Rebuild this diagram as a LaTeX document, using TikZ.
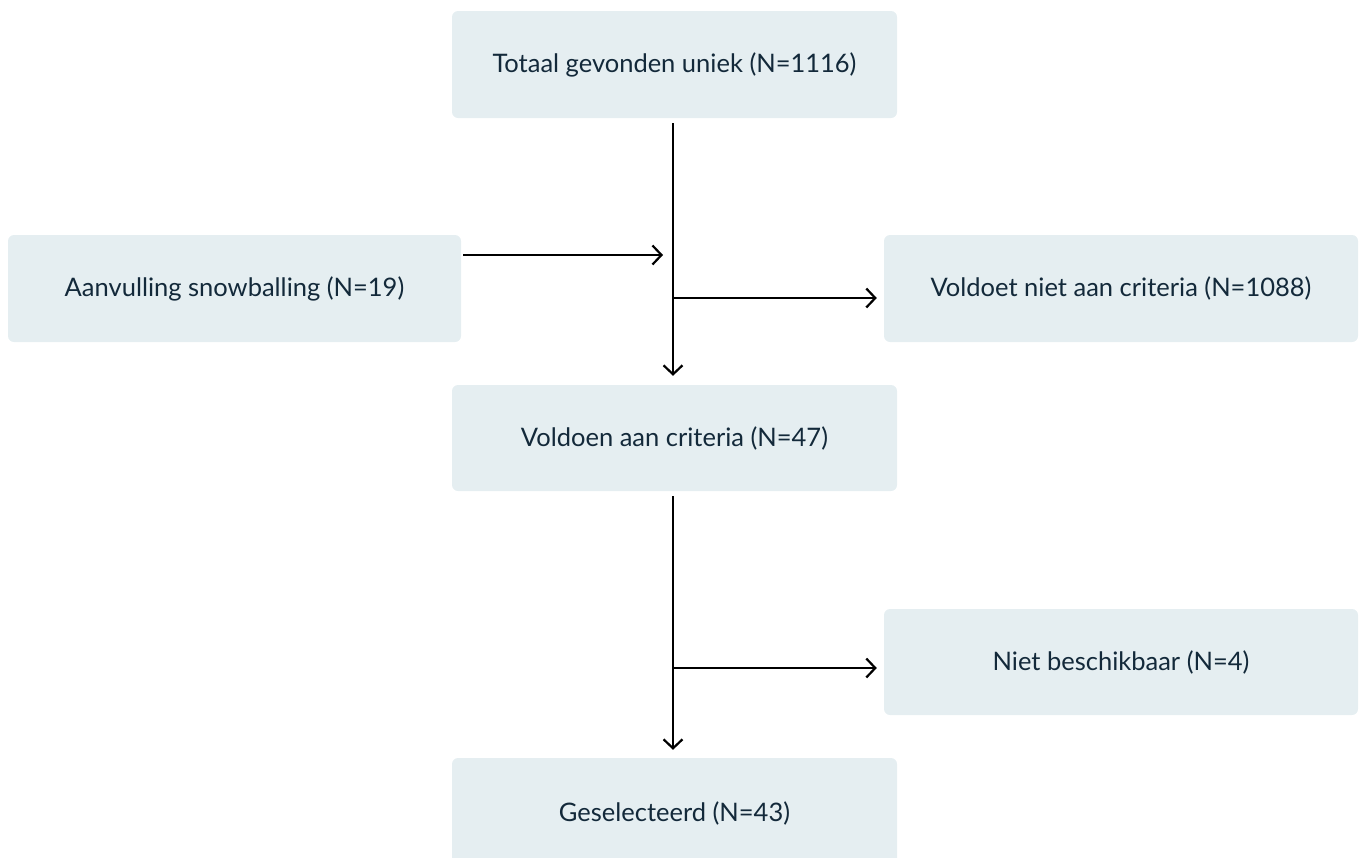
\documentclass[tikz,border=0pt]{standalone}
\usepackage{fontspec}
\setmainfont{Lato}
\usetikzlibrary{arrows.meta}
\definecolor{boxfill}{HTML}{E5EEF1}
\definecolor{txt}{HTML}{13293A}
\begin{document}
\begin{tikzpicture}[x=1pt,y=-1pt,
  box/.style={fill=boxfill, rounded corners=6pt, inner sep=0pt, text=txt,
    font=\fontsize{25.5}{29}\selectfont},
  conn/.style={line width=2.2pt, black, -{Straight Barb[length=9pt,width=19pt,line width=2.2pt]}}]
\useasboundingbox (0,0) rectangle (1362,857);
\clip (0,0) rectangle (1362,857);
\node[box, minimum width=445pt, minimum height=107pt] (top) at (674.5,64.5) {Totaal gevonden uniek (N=1116)};
\node[box, minimum width=453pt, minimum height=107pt] (snow) at (234.5,288.5) {Aanvulling snowballing (N=19)};
\node[box, minimum width=474pt, minimum height=107pt] (excl) at (1121,288.5) {Voldoet niet aan criteria (N=1088)};
\node[box, minimum width=445pt, minimum height=106pt] (mid) at (674.5,438) {Voldoen aan criteria (N=47)};
\node[box, minimum width=474pt, minimum height=106pt] (na) at (1121,662) {Niet beschikbaar (N=4)};
\node[box, minimum width=445pt, minimum height=110pt] (sel) at (674.5,813) {Geselecteerd (N=43)};
\coordinate (vx) at (673,0);
\coordinate (s1) at (snow.east |- 0,255);
\coordinate (j1) at (vx |- s1);
\coordinate (j2) at (vx |- 0,298);
\coordinate (j3) at (vx |- 0,668);
\draw[conn, shorten <=5pt, shorten >=9pt] (top.south -| vx) -- (mid.north -| vx);
\draw[conn, shorten <=2pt, shorten >=10pt] (s1) -- (j1);
\draw[conn, shorten >=7pt] (j2) -- (excl.west |- j2);
\draw[conn, shorten <=5pt, shorten >=8pt] (mid.south -| vx) -- (sel.north -| vx);
\draw[conn, shorten >=7pt] (j3) -- (na.west |- j3);
\end{tikzpicture}
\end{document}
